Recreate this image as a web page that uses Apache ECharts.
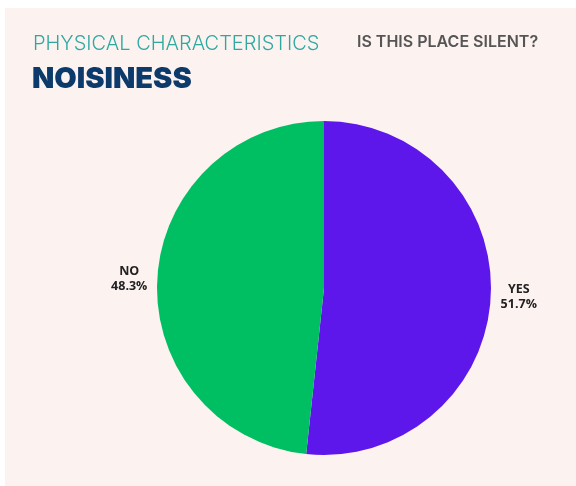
<!DOCTYPE html>
<html>
<head>
<meta charset="utf-8">
<script src="https://cdn.jsdelivr.net/npm/echarts@6/dist/echarts.min.js"></script>
<style>
  html, body { margin: 0; padding: 0; background: #ffffff; }
  #chart { width: 576px; height: 486px; }
</style>
</head>
<body>
<div id="chart"></div>
<script>
// Answers to "Is this place silent?"
const categories = ['YES', 'NO'];
const shares = [51.7, 48.3];
const sliceColors = ['#5E17EB', '#00BF63'];

const chart = echarts.init(document.getElementById('chart'), null, { renderer: 'canvas' });

const pieData = categories.map((name, i) => ({
  name: name,
  value: shares[i],
  itemStyle: { color: sliceColors[i] }
}));

chart.setOption({
  backgroundColor: '#ffffff',
  animation: false,
  graphic: [
    { type: 'rect', z: -10, shape: { x: 5, y: 8, width: 576, height: 486 }, style: { fill: '#FCF2F0' } },
    { type: 'text', left: 33, top: 34, style: { text: 'PHYSICAL CHARACTERISTICS', fill: '#2FA9A0', font: '300 20px Inter' } },
    { type: 'text', left: 32, top: 65, style: { text: 'NOISINESS', fill: '#0C3A6B', font: '900 29px Inter' } },
    { type: 'text', left: 357, top: 34, style: { text: 'IS THIS PLACE SILENT?', fill: '#555555', font: '600 16px Inter' } }
  ],
  series: [{
    type: 'pie',
    center: [324, 288],
    radius: 167,
    startAngle: 90,
    clockwise: true,
    data: pieData,
    label: {
      show: true,
      position: 'outside',
      formatter: p => '{t|' + p.name + '}\n{t|' + p.value.toFixed(1) + '%}',
      rich: {
        t: { width: 40, align: 'center', fontSize: 12.5, fontWeight: 'bold', fontFamily: 'Open Sans', color: '#222222', lineHeight: 15 }
      }
    },
    labelLine: { show: false, length: 3, length2: 0 },
    emphasis: { disabled: true }
  }]
});
</script>
</body>
</html>
